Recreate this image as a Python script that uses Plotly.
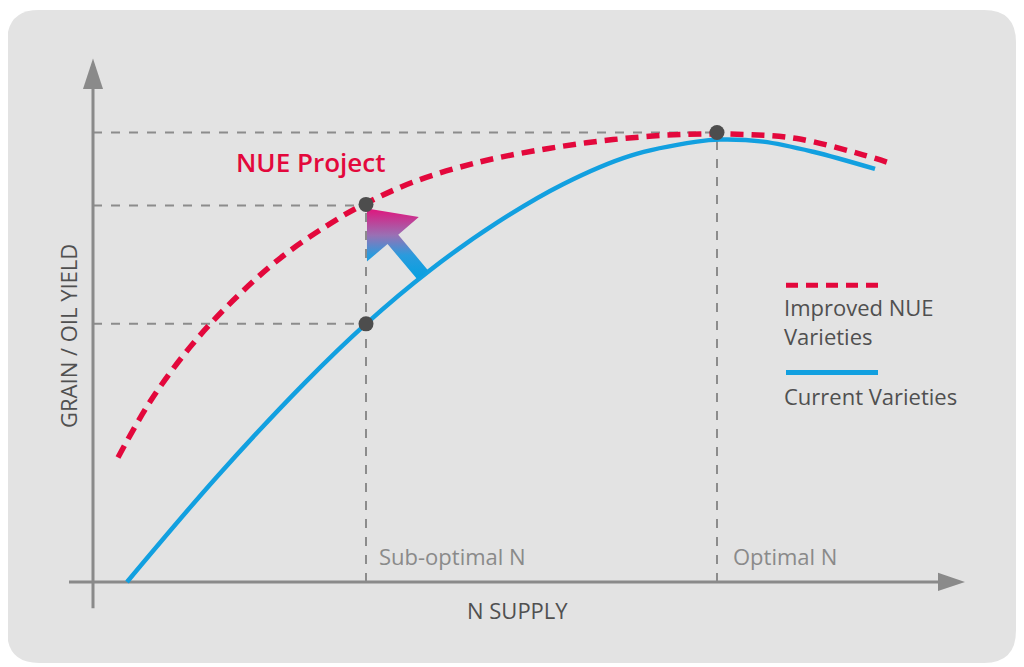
import numpy as np
import plotly.graph_objects as go

# chart units: x = N supply, y = yield, origin at the axis corner (1 unit ~ 1 px)
current_x = [34, 124, 212, 273, 337, 404, 470, 537, 604, 627, 670, 720, 782]
current_y = [0, 104, 197, 255, 308, 355, 393, 421, 435, 437, 435, 425, 408]

improved_x = [25, 57, 97, 140, 190, 247, 273, 320, 387, 454, 520, 587, 654, 704, 770, 799]
improved_y = [123, 178, 232, 278, 322, 360, 374, 395, 415, 428, 437, 442, 442, 438, 422, 413]

sub_optimal_n = 273
optimal_n = 624
yield_levels = [444, 372, 255]          # optimal, improved @ sub-opt, current @ sub-opt
dots_x = [sub_optimal_n, sub_optimal_n, optimal_n]
dots_y = [373, 255, 444]

arrow_start = (330, 303)
arrow_end = (274, 369)

RED = '#e3083c'
BLUE = '#12a0e0'
AXIS = '#8a8a8a'
TEXT = '#505050'
FONT = 'Open Sans'

fig = go.Figure()

# rounded background panel
x0, x1, y0, y1, r = -86, 923, -80, 565, 32
panel = (f'M {x0+r},{y1} L {x1-r},{y1} Q {x1},{y1} {x1},{y1-r} L {x1},{y0+r} '
         f'Q {x1},{y0} {x1-r},{y0} L {x0+r},{y0} Q {x0},{y0} {x0},{y0+r} '
         f'L {x0},{y1-r} Q {x0},{y1} {x0+r},{y1} Z')
fig.add_shape(type='path', path=panel, xref='x', yref='y',
              fillcolor='#e3e3e3', line=dict(width=0), layer='below')

# guide lines (under the curves and dots)
guide = dict(color='#8c8c8c', width=2, dash='dash')
for lvl, xe in zip(yield_levels, [optimal_n, sub_optimal_n, sub_optimal_n]):
    fig.add_shape(type='line', x0=0, y0=lvl, x1=xe, y1=lvl, line=guide, layer='below')
fig.add_shape(type='line', x0=sub_optimal_n, y0=0, x1=sub_optimal_n, y1=373, line=guide, layer='below')
fig.add_shape(type='line', x0=optimal_n, y0=0, x1=optimal_n, y1=444, line=guide, layer='below')

# axes with arrows
fig.add_shape(type='line', x0=0, y0=-26, x1=0, y1=490, line=dict(color=AXIS, width=3), layer='below')
fig.add_shape(type='line', x0=-24, y0=0, x1=850, y1=0, line=dict(color=AXIS, width=3), layer='below')
fig.add_trace(go.Scatter(x=[0, -10, 10, 0], y=[517, 487, 487, 517], fill='toself',
                         fillcolor=AXIS, line=dict(width=0), mode='lines',
                         showlegend=False, hoverinfo='skip'))
fig.add_trace(go.Scatter(x=[872, 845, 845, 872], y=[0, -9, 9, 0], fill='toself',
                         fillcolor=AXIS, line=dict(width=0), mode='lines',
                         showlegend=False, hoverinfo='skip'))

# curves
fig.add_trace(go.Scatter(x=current_x, y=current_y, mode='lines', line_shape='spline',
                         line=dict(color=BLUE, width=4.5, smoothing=1.0), showlegend=False))
fig.add_trace(go.Scatter(x=improved_x, y=improved_y, mode='lines', line_shape='spline',
                         line=dict(color=RED, width=5.5, dash='13px,8px', smoothing=1.0),
                         showlegend=False))

# gradient arrow
sx, sy = arrow_start
ex, ey = arrow_end
d = np.array([ex - sx, ey - sy], dtype=float)
u = d / np.hypot(*d)
n = np.array([-u[1], u[0]])
head_len, head_w, shaft_w = 40, 34, 7
base = np.array([ex, ey]) - u * head_len
s = np.array([sx, sy])
pts = [s + n * shaft_w, base + n * shaft_w, base + n * head_w, np.array([ex, ey]),
       base - n * head_w, base - n * shaft_w, s - n * shaft_w, s + n * shaft_w]
fig.add_trace(go.Scatter(x=[p[0] for p in pts], y=[p[1] for p in pts], fill='toself',
                         fillgradient=dict(type='vertical', start=sy, stop=ey,
                                           colorscale=[[0, '#0aa0e0'], [0.3, '#2a9bdd'],
                                                       [0.6, '#9a70b4'], [1, '#e0147c']]),
                         line=dict(width=0), mode='lines', showlegend=False, hoverinfo='skip'))

# dots
fig.add_trace(go.Scatter(x=dots_x, y=dots_y, mode='markers',
                         marker=dict(color='#4d4d4d', size=15), showlegend=False))

# legend samples
fig.add_shape(type='line', x0=693, y0=293, x1=785, y1=293, line=dict(color=RED, width=5, dash='12px,8px'))
fig.add_shape(type='line', x0=693, y0=207, x1=785, y1=207, line=dict(color=BLUE, width=5))

texts = [
    dict(x=141, y=415, text='NUE Project', font=dict(color=RED, size=26, family=FONT, weight=600), xanchor='left'),
    dict(x=689, y=257, text='Improved NUE<br>Varieties', font=dict(color=TEXT, size=22, family=FONT), xanchor='left', align='left'),
    dict(x=689, y=184, text='Current Varieties', font=dict(color=TEXT, size=22, family=FONT), xanchor='left'),
    dict(x=284, y=26, text='Sub-optimal N', font=dict(color=AXIS, size=22, family=FONT), xanchor='left'),
    dict(x=638, y=26, text='Optimal N', font=dict(color=AXIS, size=22, family=FONT), xanchor='left'),
    dict(x=424, y=-28, text='N SUPPLY', font=dict(color=TEXT, size=22, family=FONT), xanchor='center'),
    dict(x=-25, y=243, text='GRAIN / OIL YIELD', font=dict(color=TEXT, size=22, family=FONT), textangle=-90),
]
for t in texts:
    fig.add_annotation(xref='x', yref='y', showarrow=False, yanchor='middle', **t)

# page body adds an 8px margin, so the figure is 8px smaller and the ranges start 8 units in
fig.update_layout(
    width=1016, height=659, autosize=False,
    margin=dict(l=0, r=0, t=0, b=0),
    paper_bgcolor='white', plot_bgcolor='white',
    xaxis=dict(range=[-85, 931], visible=False, fixedrange=True),
    yaxis=dict(range=[-84, 567], visible=False, fixedrange=True),
    showlegend=False,
)
fig.write_html('out.html')
